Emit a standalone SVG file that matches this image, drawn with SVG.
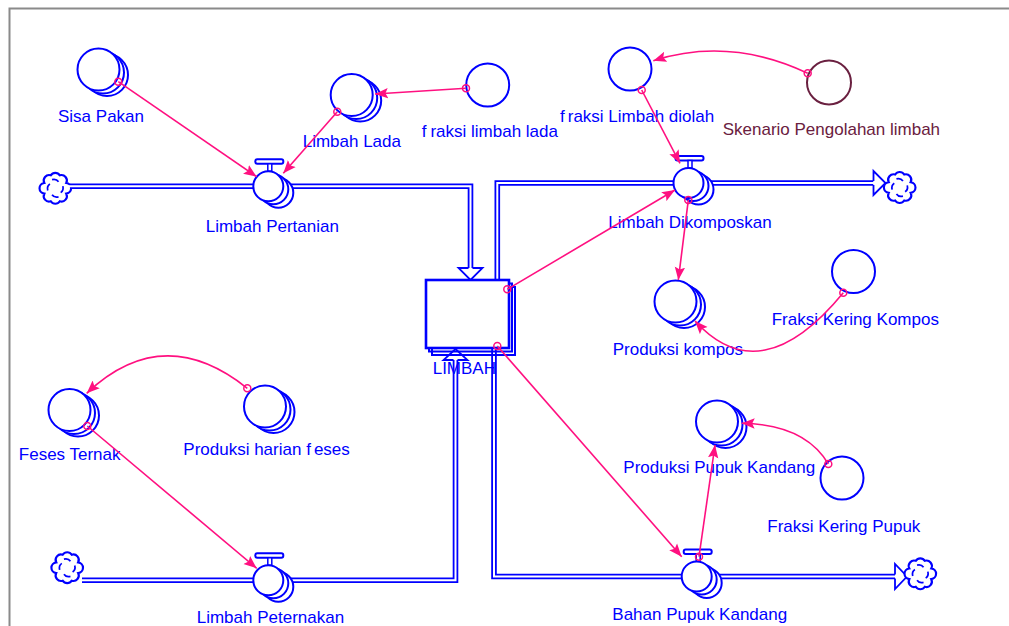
<svg xmlns="http://www.w3.org/2000/svg" width="1009" height="626" viewBox="0 0 1009 626">
  <style>
    .nb { fill: #ffffff; stroke: #0000ff; stroke-width: 2; }
    .mr { fill: #ffffff; stroke: #6a2040; stroke-width: 2; }
    .lb { font-family: "Liberation Sans", Arial, sans-serif; font-size: 17px; fill: #0000ff; }
    .lbm { font-family: "Liberation Sans", Arial, sans-serif; font-size: 17px; fill: #6a2040; }
    .pipe-o { fill: none; stroke: #0000ff; stroke-width: 5.6; stroke-linejoin: miter; }
    .pipe-i { fill: none; stroke: #ffffff; stroke-width: 2; stroke-linejoin: miter; }
    .ph { fill: #ffffff; stroke: #0000ff; stroke-width: 1.8; stroke-linejoin: miter; }
    .lk { fill: none; stroke: #ff1080; stroke-width: 1.6; marker-end: url(#ah); }
    .lo { fill: none; stroke: #ff1080; stroke-width: 1.5; }
    .cl { fill: #ffffff; stroke: #0000ff; stroke-width: 2; }
    .ct { fill: none; stroke: #0000ff; stroke-width: 1.6; }
  </style>
  <defs>
    <marker id="ah" markerUnits="userSpaceOnUse" markerWidth="14" markerHeight="12" viewBox="0 0 14 12" refX="13" refY="6" orient="auto">
      <path d="M0,0.8 L13,6 L0,11.2 L2.5,6 z" fill="#ff1080"/>
    </marker>
    <!-- auxiliary with stacked (array) outline -->
    <g id="auxStack">
      <circle cx="8.5" cy="5.5" r="21" class="nb"/>
      <circle cx="4.5" cy="3" r="21" class="nb"/>
      <circle cx="0" cy="0" r="21" class="nb"/>
    </g>
    <g id="aux">
      <circle cx="0" cy="0" r="21.5" class="nb"/>
    </g>
    <!-- flow valve: handle, stem and stacked body -->
    <g id="valve">
      <rect x="-13" y="-27" width="28" height="4.5" rx="2" class="nb"/>
      <rect x="-0.5" y="-22.5" width="4" height="7.5" class="nb" style="stroke-width:1.5"/>
      <circle cx="10" cy="6.5" r="15" class="nb"/>
      <circle cx="5" cy="3" r="15" class="nb"/>
      <circle cx="0" cy="0" r="15" class="nb"/>
    </g>
    <!-- source / sink cloud -->
    <g id="cloud">
      <g transform="scale(1.08)">
        <path class="cl" d="M10.16,-4.97 A5 5 0 0 1 10.16,4.97 A5 5 0 0 1 4.21,12.01 A5 5 0 0 1 -4.21,12.01 A5 5 0 0 1 -10.16,4.97 A5 5 0 0 1 -10.16,-4.97 A5 5 0 0 1 -4.21,-12.01 A5 5 0 0 1 4.21,-12.01 A5 5 0 0 1 10.16,-4.97 Z"/>
        <path class="ct" d="M-3,-8 q4,-1 6,2"/>
        <path class="ct" d="M7,-2 q1,4 -2,6"/>
        <path class="ct" d="M3,8 q-4,1 -6,-2"/>
        <path class="ct" d="M-7,2 q-1,-4 2,-6"/>
      </g>
    </g>
  </defs>

  <!-- frame -->
  <path d="M9.5,626 V8.5 H1009" fill="none" stroke="#8a8a8a" stroke-width="2"/>

  <!-- material flow pipes -->
  <g id="flow-pipes">
    <use href="#cloud" x="55.3" y="188.3"/>
    <path class="pipe-o" d="M70,186.3 H470.5 V268"/>
    <path class="pipe-i" d="M69,186.3 H470.5 V268.5"/>
    <path class="ph" d="M468.5,268 H458.5 L470.5,280 L482.5,268 H472.5"/>

    <path class="pipe-o" d="M497.3,281 V183 H873.5"/>
    <path class="pipe-i" d="M497.3,281 V183 H874"/>
    <path class="ph" d="M873.5,181 V171 L885.5,183 L873.5,195 V185"/>
    <use href="#cloud" x="899.7" y="187.5"/>

    <use href="#cloud" x="67.2" y="567.7"/>
    <path class="pipe-o" d="M82,580.3 H455.5 V360"/>
    <path class="pipe-i" d="M81,580.3 H455.5 V359.5"/>
    <path class="ph" d="M453.5,360 H443.5 L455.5,349 L467.5,360 H457.5"/>

    <path class="pipe-o" d="M494,348 V576.5 H895"/>
    <path class="pipe-i" d="M494,348 V576.5 H895.5"/>
    <path class="ph" d="M895,574.5 V564 L907,576.5 L895,589 V578.5"/>
    <use href="#cloud" x="920.3" y="573.8"/>
  </g>

  <!-- stock -->
  <g id="n-limbah">
    <rect x="432" y="287" width="83" height="68" fill="none" stroke="#0000ff" stroke-width="2"/>
    <rect x="429" y="283.5" width="83" height="68" fill="none" stroke="#0000ff" stroke-width="2"/>
    <rect x="426" y="280" width="83" height="68" fill="#ffffff" stroke="#0000ff" stroke-width="2.6"/>
    <text class="lb" x="432.7" y="374.3">LIMBAH</text>
  </g>

  <g id="n-sisa-pakan">
    <use href="#auxStack" x="98.5" y="69.5"/>
    <text class="lb" x="58" y="121.5">Sisa Pakan</text>
  </g>
  <g id="n-limbah-lada">
    <use href="#auxStack" x="351.7" y="95"/>
    <text class="lb" x="302.7" y="146.7">Limbah Lada</text>
  </g>
  <g id="n-fraksi-limbah-lada">
    <use href="#aux" x="487.7" y="85"/>
    <text class="lb" x="421.7" y="137.3">f<tspan dx="4">raksi limbah lada</tspan></text>
  </g>
  <g id="n-limbah-pertanian">
    <use href="#valve" x="268.3" y="186.3"/>
    <text class="lb" x="205.7" y="231.7">Limbah Pertanian</text>
  </g>
  <g id="n-fraksi-limbah-diolah">
    <use href="#aux" x="630" y="69"/>
    <text class="lb" x="560" y="121.7">f<tspan dx="3">raksi Limbah diolah</tspan></text>
  </g>
  <g id="n-skenario-pengolahan-limbah">
    <circle cx="829" cy="82.5" r="22" class="mr"/>
    <text class="lbm" x="722.7" y="135">Skenario Pengolahan limbah</text>
  </g>
  <g id="n-limbah-dikomposkan">
    <use href="#valve" x="688.5" y="183"/>
    <text class="lb" x="608.3" y="228.3">Limbah Dikomposkan</text>
  </g>
  <g id="n-produksi-kompos">
    <use href="#auxStack" x="675.5" y="301.5"/>
    <text class="lb" x="612.7" y="355">Produksi kompos</text>
  </g>
  <g id="n-fraksi-kering-kompos">
    <use href="#aux" x="853.5" y="271.5"/>
    <text class="lb" x="771.7" y="325">Fraksi Kering Kompos</text>
  </g>
  <g id="n-feses-ternak">
    <use href="#auxStack" x="69.5" y="410"/>
    <text class="lb" x="18.8" y="460">Feses Ternak</text>
  </g>
  <g id="n-produksi-harian-feses">
    <use href="#auxStack" x="265" y="406.5"/>
    <text class="lb" x="183.3" y="455">Produksi harian f<tspan dx="3">eses</tspan></text>
  </g>
  <g id="n-limbah-peternakan">
    <use href="#valve" x="268.3" y="580.3"/>
    <text class="lb" x="196.7" y="623.3">Limbah Peternakan</text>
  </g>
  <g id="n-produksi-pupuk-kandang">
    <use href="#auxStack" x="717" y="421.5"/>
    <text class="lb" x="623.3" y="473.3">Produksi Pupuk Kandang</text>
  </g>
  <g id="n-fraksi-kering-pupuk">
    <use href="#aux" x="842" y="478"/>
    <text class="lb" x="767.3" y="531.7">Fraksi Kering Pupuk</text>
  </g>
  <g id="n-bahan-pupuk-kandang">
    <use href="#valve" x="696.7" y="576.5"/>
    <text class="lb" x="612.3" y="620">Bahan Pupuk Kandang</text>
  </g>

  <!-- information links -->
  <g id="connectors">
    <path class="lk" d="M118.3,81.7 L256.7,176.7"/>
    <circle class="lo" cx="118.3" cy="81.7" r="3.5"/>
    <path class="lk" d="M337.3,111.7 L283.3,173.3"/>
    <circle class="lo" cx="337.3" cy="111.7" r="3.5"/>
    <path class="lk" d="M466,88.3 L375,94"/>
    <circle class="lo" cx="466" cy="88.3" r="3.5"/>
    <path class="lk" d="M807.7,73.3 Q729.5,36.4 653.3,60.7"/>
    <circle class="lo" cx="807.7" cy="73.3" r="3.5"/>
    <path class="lk" d="M641.7,90 L680,163.3"/>
    <circle class="lo" cx="641.7" cy="90" r="3.5"/>
    <path class="lk" d="M507.3,289.3 L675,190"/>
    <circle class="lo" cx="507.3" cy="289.3" r="3.5"/>
    <path class="lk" d="M688.3,200 L678.3,280"/>
    <circle class="lo" cx="688.3" cy="200" r="3.5"/>
    <path class="lk" d="M843.3,292.7 Q760.8,393.2 695,321"/>
    <circle class="lo" cx="843.3" cy="292.7" r="3.5"/>
    <path class="lk" d="M247.3,388.3 Q163,321.2 86.7,393.3"/>
    <circle class="lo" cx="247.3" cy="388.3" r="3.5"/>
    <path class="lk" d="M87.3,426 L256.7,568.3"/>
    <circle class="lo" cx="87.3" cy="426" r="3.5"/>
    <path class="lk" d="M497.3,346 L681.7,556.7"/>
    <circle class="lo" cx="497.3" cy="346" r="3.5"/>
    <path class="lk" d="M699,556.7 L715,445"/>
    <circle class="lo" cx="699" cy="556.7" r="3.5"/>
    <path class="lk" d="M828.3,464 Q805,424.4 741.7,423.3"/>
    <circle class="lo" cx="828.3" cy="464" r="3.5"/>
  </g>
</svg>
